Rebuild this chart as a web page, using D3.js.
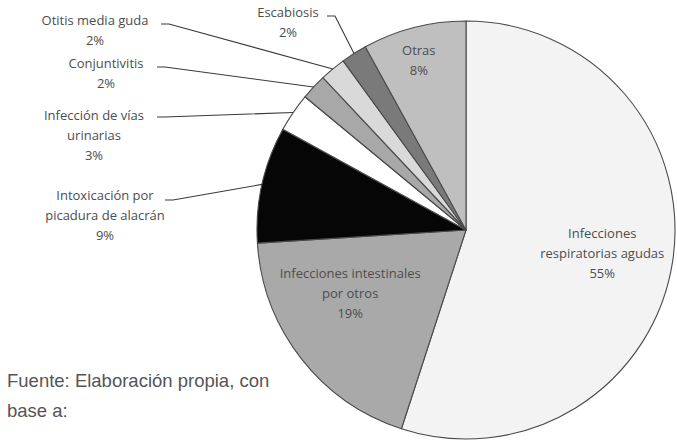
<!DOCTYPE html>
<html>
<head>
<meta charset="utf-8">
<script src="https://cdn.jsdelivr.net/npm/d3@7"></script>
<style>
  html, body { margin: 0; padding: 0; background: #fff; }
  svg { display: block; }
</style>
</head>
<body>
<svg id="chart" width="677" height="443"></svg>
<script>
// Causes of consultation, share of total (%), clockwise from 12 o'clock
const categories = [
  "Infecciones respiratorias agudas",
  "Infecciones intestinales por otros",
  "Intoxicación por picadura de alacrán",
  "Infección de vías urinarias",
  "Conjuntivitis",
  "Otitis media guda",
  "Escabiosis",
  "Otras"
];
const values = [55, 19, 9, 3, 2, 2, 2, 8];
const labelLines = [
  ["Infecciones", "respiratorias agudas"],
  ["Infecciones intestinales", "por otros"],
  ["Intoxicación por", "picadura de alacrán"],
  ["Infección de vías", "urinarias"],
  ["Conjuntivitis"],
  ["Otitis media guda"],
  ["Escabiosis"],
  ["Otras"]
];
const sourceLines = ["Fuente: Elaboración propia, con", "base a:"];

// Styling and layout
const fills = ["#f3f3f3", "#a9a9a9", "#060606", "#ffffff", "#a8a8a8", "#d9d9d9", "#7a7a7a", "#bfbfbf"];
const cx = 466, cy = 230, R = 209;
// inside labels: radial factor + nudge; outside labels: text block center and leader start
const layout = [
  { inside: true, rf: 0.66, dx: 0, dy: 2 },
  { inside: true, rf: 0.58, dx: -20, dy: -11 },
  { inside: false, tx: 105, ty: 195, lx: 165, ly: 200 },
  { inside: false, tx: 94, ty: 115, lx: 157, ly: 117 },
  { inside: false, tx: 106, ty: 63, lx: 157, ly: 67 },
  { inside: false, tx: 95, ty: 20, lx: 161, ly: 24 },
  { inside: false, tx: 288, ty: 12, lx: 327, ly: 16 },
  { inside: true, rf: 0.85, dx: -3, dy: 3 }
];
const lineH = 20;

const svg = d3.select("#chart");
const g = svg.append("g").attr("transform", `translate(${cx},${cy})`);

const pie = d3.pie().sort(null).value(d => d)(values);
const arc = d3.arc().innerRadius(0).outerRadius(R);

g.selectAll("path.slice")
  .data(pie)
  .join("path")
  .attr("class", "slice")
  .attr("d", arc)
  .attr("fill", (d, i) => fills[i])
  .attr("stroke", "#4a4a4a")
  .attr("stroke-width", 1.1)
  .attr("stroke-linejoin", "round");

const textFont = "'Open Sans', sans-serif";

pie.forEach((d, i) => {
  const L = layout[i];
  const lines = labelLines[i].concat([values[i] + "%"]);
  let x, y;
  if (L.inside) {
    const a = (d.startAngle + d.endAngle) / 2;
    x = cx + Math.sin(a) * R * L.rf + L.dx;
    y = cy - Math.cos(a) * R * L.rf + L.dy;
  } else {
    x = L.tx; y = L.ty;
    // leader line: short horizontal tick then straight to the slice edge
    const a = (d.startAngle + d.endAngle) / 2;
    const ex = cx + Math.sin(a) * R, ey = cy - Math.cos(a) * R;
    svg.append("polyline")
      .attr("points", [[L.lx, L.ly], [L.lx + 8, L.ly], [ex, ey]].map(p => p.join(",")).join(" "))
      .attr("fill", "none")
      .attr("stroke", "#3a3a3a")
      .attr("stroke-width", 1.1);
  }
  const first = L.inside ? y - (lines.length - 1) * lineH / 2 : y;
  const t = svg.append("text")
    .attr("text-anchor", "middle")
    .attr("font-family", textFont)
    .attr("font-size", 13)
    .attr("fill", "#4d4d4d");
  lines.forEach((s, k) => {
    t.append("tspan")
      .attr("x", x)
      .attr("y", first + k * lineH)
      .attr("dy", "0.35em")
      .text(s);
  });
});

const src = svg.append("text")
  .attr("font-family", "'Liberation Sans', Arial, sans-serif")
  .attr("font-size", 18.5)
  .attr("fill", "#555");
sourceLines.forEach((s, k) => {
  src.append("tspan").attr("x", 7).attr("y", 387 + k * 30).text(s);
});
</script>
</body>
</html>
